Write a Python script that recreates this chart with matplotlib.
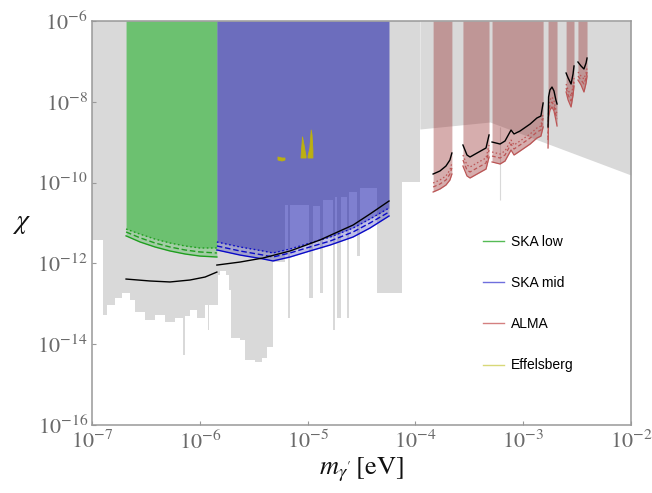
import numpy as np
import matplotlib
matplotlib.use("Agg")
import matplotlib.pyplot as plt
from matplotlib.lines import Line2D
from matplotlib.ticker import FixedLocator, FuncFormatter, NullLocator

plt.rcParams['mathtext.fontset'] = 'stix'
plt.rcParams['font.family'] = ['Liberation Sans', 'DejaVu Sans']

# ---------------- data ----------------
# existing bounds (grey), lower edge of excluded region (step, post)
gray_mass = [1.00e-7, 1.26e-7, 1.38e-7, 1.63e-7, 1.90e-7, 2.25e-7, 2.51e-7, 3.10e-7,
             3.84e-7, 4.75e-7, 5.89e-7, 6.99e-7, 7.29e-7, 8.11e-7, 9.42e-7, 1.12e-6,
             1.19e-6, 1.22e-6, 1.48e-6, 1.54e-6, 1.75e-6, 1.87e-6, 1.95e-6, 2.36e-6,
             2.62e-6, 3.25e-6, 3.77e-6, 4.20e-6, 4.77e-6, 6.17e-6, 6.58e-6, 6.87e-6,
             1.03e-5, 1.12e-5, 1.30e-5, 1.39e-5, 1.72e-5, 1.80e-5, 1.88e-5, 2.04e-5,
             2.32e-5, 2.40e-5, 2.87e-5, 3.06e-5, 4.41e-5, 7.51e-5, 1.10e-4]
gray_chi = [3.8e-12, 5.3e-14, 9.3e-14, 1.39e-13, 1.85e-13, 1.24e-13, 6.3e-14, 4.0e-14,
            5.3e-14, 3.55e-14, 4.5e-14, 5.4e-15, 5.0e-14, 7.0e-14, 4.5e-14, 9.3e-14,
            2.25e-14, 9.3e-14, 5.2e-13, 6.5e-13, 5.2e-13, 2.2e-13, 1.42e-14, 1.27e-14,
            4.1e-15, 3.62e-15, 4.6e-15, 8.5e-15, 1.08e-12, 2.79e-11, 4.5e-14, 2.79e-11,
            1.39e-13, 2.6e-11, 1.85e-13, 3.7e-11, 2.25e-14, 4.4e-11, 4.5e-14, 4.4e-11,
            4.5e-14, 5.8e-11, 1.5e-12, 7.3e-11, 1.85e-13, 1.03e-10, 2.12e-9]
gray_diag_mass = [1.10e-4, 4.92e-4, 1.0e-2]
gray_diag_chi = [2.12e-9, 3.16e-9, 1.54e-10]
gray_line_mass = [6.1e-4]
gray_line_lo = [3.7e-11]
gray_line_hi = [2.4e-9]

# SKA low
ska_low_mass = [2.07e-7, 2.79e-7, 3.84e-7, 5.29e-7, 7.29e-7, 1.00e-6, 1.44e-6]
ska_low_solid = [4.8e-12, 3.39e-12, 2.55e-12, 2.03e-12, 1.71e-12, 1.52e-12, 1.44e-12]
ska_low_dashed = [6.0e-12, 4.3e-12, 3.20e-12, 2.55e-12, 2.15e-12, 1.92e-12, 1.81e-12]
ska_low_dotted = [7.1e-12, 5.3e-12, 4.0e-12, 3.20e-12, 2.70e-12, 2.41e-12, 2.41e-12]
ska_low_black_mass = [2.07e-7, 3.45e-7, 5.29e-7, 8.11e-7, 1.12e-6, 1.44e-6]
ska_low_black = [4.1e-13, 3.67e-13, 3.47e-13, 3.88e-13, 4.6e-13, 6.1e-13]

# SKA mid
ska_mid_mass = [1.44e-6, 2.36e-6, 3.86e-6, 4.77e-6, 6.87e-6, 1.05e-5, 1.62e-5, 2.64e-5, 3.79e-5, 5.69e-5]
ska_mid_solid = [2.15e-12, 1.61e-12, 1.29e-12, 1.15e-12, 1.44e-12, 2.03e-12, 2.85e-12, 4.5e-12, 7.5e-12, 1.49e-11]
ska_mid_dashed = [2.70e-12, 2.03e-12, 1.61e-12, 1.44e-12, 1.81e-12, 2.55e-12, 3.58e-12, 6.0e-12, 1.0e-11, 1.87e-11]
ska_mid_dotted = [3.39e-12, 2.55e-12, 2.03e-12, 1.81e-12, 2.27e-12, 3.20e-12, 4.5e-12, 7.5e-12, 1.26e-11, 2.35e-11]
ska_mid_black_mass = [1.44e-6, 2.36e-6, 3.86e-6, 6.87e-6, 1.30e-5, 2.64e-5, 3.79e-5, 5.69e-5]
ska_mid_black = [9.1e-13, 1.08e-12, 1.36e-12, 2.03e-12, 3.79e-12, 8.9e-12, 1.67e-11, 3.50e-11]

# ALMA (six frequency bands)
alma_mass = [
    [1.46e-4, 1.69e-4, 1.92e-4, 2.09e-4, 2.18e-4],
    [2.76e-4, 3.01e-4, 3.21e-4, 3.73e-4, 4.52e-4, 4.82e-4],
    [5.14e-4, 6.10e-4, 6.78e-4, 7.71e-4, 8.22e-4, 9.34e-4, 1.16e-3, 1.34e-3, 1.46e-3, 1.53e-3],
    [1.70e-3, 1.72e-3, 1.77e-3, 1.85e-3, 1.93e-3, 2.01e-3, 2.06e-3],
    [2.50e-3, 2.61e-3, 2.78e-3, 2.90e-3, 2.96e-3],
    [3.22e-3, 3.44e-3, 3.66e-3, 3.83e-3, 3.91e-3],
]
alma_black = [
    [1.63e-10, 1.94e-10, 2.57e-10, 3.62e-10, 5.40e-10],
    [8.52e-10, 4.82e-10, 4.30e-10, 5.40e-10, 7.19e-10, 1.51e-9],
    [1.01e-9, 9.02e-10, 1.07e-9, 2.00e-9, 1.60e-9, 1.89e-9, 2.82e-9, 3.97e-9, 4.45e-9, 9.34e-9],
    [2.38e-9, 1.32e-8, 1.96e-8, 2.32e-8, 1.85e-8, 1.11e-8, 8.82e-9],
    [5.16e-8, 3.88e-8, 2.76e-8, 4.88e-8, 7.69e-8],
    [9.66e-8, 7.69e-8, 6.49e-8, 9.12e-8, 1.21e-7],
]
alma_dotted = [
    [9.77e-11, 1.16e-10, 1.46e-10, 2.05e-10, 3.06e-10],
    [4.82e-10, 2.73e-10, 2.43e-10, 3.06e-10, 4.06e-10, 8.52e-10],
    [5.72e-10, 5.10e-10, 6.06e-10, 1.13e-9, 8.52e-10, 1.07e-9, 1.60e-9, 2.25e-9, 2.52e-9, 5.28e-9],
    [1.35e-9, 7.44e-9, 1.11e-8, 1.32e-8, 1.05e-8, 6.27e-9, 4.99e-9],
    [2.76e-8, 1.96e-8, 1.39e-8, 2.46e-8, 3.88e-8],
    [5.47e-8, 4.35e-8, 3.67e-8, 5.16e-8, 6.87e-8],
]
alma_dashed = [
    [7.78e-11, 9.23e-11, 1.16e-10, 1.63e-10, 2.30e-10],
    [3.62e-10, 2.05e-10, 1.83e-10, 2.30e-10, 3.06e-10, 6.41e-10],
    [4.55e-10, 4.06e-10, 4.82e-10, 9.02e-10, 6.79e-10, 8.52e-10, 1.27e-9, 1.79e-9, 2.00e-9, 3.97e-9],
    [1.13e-9, 5.59e-9, 8.33e-9, 9.89e-9, 7.87e-9, 4.71e-9, 3.75e-9],
    [2.20e-8, 1.47e-8, 1.05e-8, 1.96e-8, 3.09e-8],
    [4.35e-8, 3.46e-8, 2.76e-8, 3.88e-8, 5.47e-8],
]
alma_solid = [
    [5.85e-11, 6.95e-11, 8.72e-11, 1.16e-10, 1.63e-10],
    [2.57e-10, 1.46e-10, 1.30e-10, 1.63e-10, 2.17e-10, 4.30e-10],
    [3.24e-10, 2.89e-10, 3.42e-10, 6.41e-10, 4.82e-10, 6.06e-10, 9.02e-10, 1.27e-9, 1.42e-9, 2.38e-9],
    [7.19e-10, 4.21e-9, 6.27e-9, 7.44e-9, 5.92e-9, 3.55e-9, 2.52e-9],
    [1.75e-8, 1.11e-8, 7.44e-9, 1.47e-8, 2.46e-8],
    [3.46e-8, 2.61e-8, 1.75e-8, 2.92e-8, 4.35e-8],
]

# Effelsberg
eff_mass = [5.31e-6, 5.79e-6, 6.17e-6, np.nan, 8.69e-6, 8.97e-6, 9.27e-6, 9.67e-6, np.nan,
            1.01e-5, 1.05e-5, 1.08e-5, 1.10e-5, 1.12e-5]
eff_top = [4.30e-10, 4.06e-10, 4.06e-10, np.nan, 4.30e-10, 1.35e-9, 8.52e-10, 4.55e-10, np.nan,
           4.55e-10, 7.19e-10, 2.0e-9, 1.51e-9, 6.41e-10]
eff_bot = [3.62e-10, 3.42e-10, 3.62e-10, np.nan, 4.06e-10, 4.06e-10, 4.06e-10, 4.06e-10, np.nan,
           4.06e-10, 4.06e-10, 4.06e-10, 4.06e-10, 4.06e-10]

legend_labels = ['SKA low', 'SKA mid', 'ALMA', 'Effelsberg']

# ---------------- style ----------------
GRAY = '#d9d9d9'
GREEN = (0.0, 0.667, 0.03)
BLUE = (0.0, 0.012, 0.64)
RED = (0.60, 0.20, 0.20)
GREEN_LINE = '#1f9e1f'
BLUE_LINE = '#0a0ac8'
RED_LINE = '#bb5555'
YEL = '#bcb010'
TOP = 1e-6

fig = plt.figure(figsize=(6.52, 4.93), dpi=100)
ax = fig.add_axes([92 / 652, 1 - 425 / 493, 539 / 652, 404 / 493])
ax.set_xscale('log')
ax.set_yscale('log')

# grey existing bounds
ax.fill_between(gray_mass, gray_chi, TOP, step='post', color=GRAY, lw=0, zorder=1)
ax.fill_between(gray_diag_mass, gray_diag_chi, TOP, color=GRAY, lw=0, zorder=1)
ax.vlines(gray_line_mass, gray_line_lo, gray_line_hi, color=GRAY, lw=0.8, zorder=1)

# SKA low
ax.fill_between(ska_low_mass, ska_low_dotted, TOP, color=GREEN, alpha=0.5, lw=0, zorder=2)
ax.fill_between(ska_low_mass, ska_low_solid, ska_low_dotted, color=GREEN, alpha=0.25, lw=0, zorder=2)
ax.plot(ska_low_mass, ska_low_solid, color=GREEN_LINE, lw=1.0, zorder=4)
ax.plot(ska_low_mass, ska_low_dashed, color=GREEN_LINE, lw=1.0, ls=(0, (4, 2)), zorder=4)
ax.plot(ska_low_mass, ska_low_dotted, color=GREEN_LINE, lw=1.0, ls=(0, (1.2, 1.8)), zorder=4)
ax.plot(ska_low_black_mass, ska_low_black, color='black', lw=1.0, zorder=5)

# SKA mid
ax.fill_between(ska_mid_mass, ska_mid_dotted, TOP, color=BLUE, alpha=0.5, lw=0, zorder=2)
ax.fill_between(ska_mid_mass, ska_mid_solid, ska_mid_dotted, color=BLUE, alpha=0.25, lw=0, zorder=2)
ax.plot(ska_mid_mass, ska_mid_solid, color=BLUE_LINE, lw=1.0, zorder=4)
ax.plot(ska_mid_mass, ska_mid_dashed, color=BLUE_LINE, lw=1.0, ls=(0, (4, 2)), zorder=4)
ax.plot(ska_mid_mass, ska_mid_dotted, color=BLUE_LINE, lw=1.0, ls=(0, (1.2, 1.8)), zorder=4)
ax.plot(ska_mid_black_mass, ska_mid_black, color='black', lw=1.0, zorder=5)

# Effelsberg
ax.fill_between(eff_mass, eff_bot, eff_top, color=YEL, lw=0.6, edgecolor=YEL, zorder=3)

# ALMA
for m, b, dt, ds, so in zip(alma_mass, alma_black, alma_dotted, alma_dashed, alma_solid):
    ax.fill_between(m, so, TOP, color=RED, alpha=0.4, lw=0, zorder=2)
    ax.plot(m, so, color=RED_LINE, lw=0.9, zorder=4)
    ax.plot(m, ds, color=RED_LINE, lw=0.9, ls=(0, (3, 2)), zorder=4)
    ax.plot(m, dt, color=RED_LINE, lw=0.9, ls=(0, (1.2, 1.8)), zorder=4)
    ax.plot(m, b, color='black', lw=1.0, zorder=5)

# axes
ax.set_xlim(1e-7, 1e-2)
ax.set_ylim(1e-16, 1e-6)
ax.xaxis.set_major_locator(FixedLocator([1e-7, 1e-6, 1e-5, 1e-4, 1e-3, 1e-2]))
ax.yaxis.set_major_locator(FixedLocator([1e-16, 1e-14, 1e-12, 1e-10, 1e-8, 1e-6]))
ax.xaxis.set_minor_locator(NullLocator())
ax.yaxis.set_minor_locator(NullLocator())
fmt = FuncFormatter(lambda v, _: r'$10^{%d}$' % int(round(np.log10(v))))
ax.xaxis.set_major_formatter(fmt)
ax.yaxis.set_major_formatter(fmt)
ax.tick_params(direction='in', length=3, width=0.8, color='#999999',
               labelcolor='#6a6a6a', labelsize=16)
ax.tick_params(axis='x', pad=4)
ax.tick_params(axis='y', pad=3)
for s in ax.spines.values():
    s.set_color('#999999')
    s.set_linewidth(1.1)

fig.text(361 / 652, 1 - 470 / 493, r"$m_{\gamma'}\,[\mathrm{eV}]$", fontsize=19,
         ha='center', va='center', color='#111111')
fig.text(21 / 652, 1 - 223 / 493, r"$\chi$", fontsize=20, ha='center', va='center',
         color='#111111')

handles = [Line2D([], [], color='#55bb55', lw=1.0),
           Line2D([], [], color='#6f6fdd', lw=1.0),
           Line2D([], [], color='#d48080', lw=1.0),
           Line2D([], [], color='#d8d878', lw=1.0)]
ax.legend(handles, legend_labels, loc='center left', bbox_to_anchor=(0.725, 0.30),
          frameon=False, fontsize=10, handlelength=1.5, handletextpad=0.5,
          labelspacing=1.95, borderpad=0, borderaxespad=0)

fig.savefig('out.png', dpi=100)
